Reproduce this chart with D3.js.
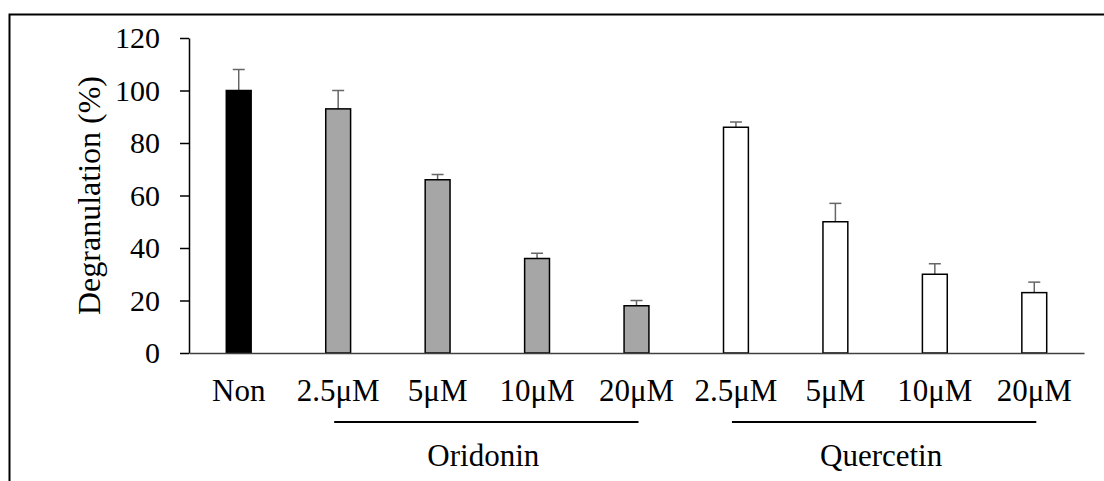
<!doctype html>
<html>
<head>
    <meta charset="UTF-8">
    <title>degranulation</title>
    <script src="https://d3js.org/d3.v7.min.js"></script>
    <style>
        body { margin: 0; background: #fff; }
        svg text { font-family: "Liberation Serif", "Times New Roman", serif; fill: #000; }
    </style>
</head>
<body>
    <svg id="chart" width="1104" height="481"></svg>
    <script>
        // values
        var labels = ["Non", "2.5μM", "5μM", "10μM", "20μM", "2.5μM", "5μM", "10μM", "20μM"];
        var treatment = ["Non", "Oridonin", "Oridonin", "Oridonin", "Oridonin", "Quercetin", "Quercetin", "Quercetin", "Quercetin"];
        var means = [100, 93, 66, 36, 18, 86, 50, 30, 23];
        var errors = [8, 7, 2, 2, 2, 2, 7, 4, 4];
        var yTicks = [0, 20, 40, 60, 80, 100, 120];
        var groupNames = ["Oridonin", "Quercetin"];
        var groupFirst = [1, 5];
        var groupLast = [4, 8];

        var svg = d3.select("#chart");

        // outer frame (runs off right and bottom edges)
        svg.append("path")
            .attr("d", "M9.5,490 V14.5 H1120")
            .attr("fill", "none")
            .attr("stroke", "#000")
            .attr("stroke-width", 2);

        var plotLeft = 189, plotRight = 1084, plotTop = 38, plotBottom = 353;

        var x = d3.scaleBand()
            .domain(d3.range(labels.length))
            .range([plotLeft, plotRight])
            .paddingInner(0.75)
            .paddingOuter(0.375);

        var y = d3.scaleLinear().domain([0, 120]).range([plotBottom, plotTop]);

        var fill = d3.scaleOrdinal()
            .domain(["Non", "Oridonin", "Quercetin"])
            .range(["#000000", "#a6a6a6", "#ffffff"]);

        // y axis
        var yAxis = svg.append("g")
            .attr("transform", "translate(" + plotLeft + ",0)")
            .call(d3.axisLeft(y).tickValues(yTicks).tickSize(9).tickSizeOuter(0).tickPadding(20));
        yAxis.selectAll("path, line").attr("stroke", "#000").attr("stroke-width", 1.5);
        yAxis.selectAll("text").style("font-size", "30px").style("font-family", "Liberation Serif");

        // error bars
        var eb = svg.append("g").selectAll("g").data(means).enter().append("g");
        eb.append("line")
            .attr("x1", function (d, i) { return x(i) + x.bandwidth() / 2; })
            .attr("x2", function (d, i) { return x(i) + x.bandwidth() / 2; })
            .attr("y1", function (d) { return y(d); })
            .attr("y2", function (d, i) { return y(d + errors[i]); })
            .attr("stroke", "#666").attr("stroke-width", 1.5);
        eb.append("line")
            .attr("x1", function (d, i) { return x(i) + x.bandwidth() / 2 - 6; })
            .attr("x2", function (d, i) { return x(i) + x.bandwidth() / 2 + 6; })
            .attr("y1", function (d, i) { return y(d + errors[i]); })
            .attr("y2", function (d, i) { return y(d + errors[i]); })
            .attr("stroke", "#666").attr("stroke-width", 1.5);

        // bars
        svg.append("g").selectAll("rect").data(means).enter().append("rect")
            .attr("x", function (d, i) { return x(i); })
            .attr("y", function (d) { return y(d); })
            .attr("width", x.bandwidth())
            .attr("height", function (d) { return plotBottom - y(d); })
            .attr("fill", function (d, i) { return fill(treatment[i]); })
            .attr("stroke", "#000")
            .attr("stroke-width", 1.5);

        // x axis
        var xAxis = svg.append("g")
            .attr("transform", "translate(0," + plotBottom + ")")
            .call(d3.axisBottom(x).tickSize(0).tickSizeOuter(0).tickPadding(26)
                .tickFormat(function (i) { return labels[i]; }));
        xAxis.select(".domain").attr("stroke", "#404040").attr("stroke-width", 1.5);
        xAxis.selectAll("text").style("font-size", "31px").style("font-family", "Liberation Serif");

        // group underlines and names
        var grp = svg.append("g").selectAll("g").data(groupNames).enter().append("g");
        grp.append("line")
            .attr("x1", function (d, i) { return x(groupFirst[i]) + x.bandwidth() / 2 - 4; })
            .attr("x2", function (d, i) { return x(groupLast[i]) + x.bandwidth() / 2 + 2; })
            .attr("y1", 422).attr("y2", 422)
            .attr("stroke", "#000").attr("stroke-width", 2);
        grp.append("text")
            .attr("x", function (d, i) { return (x(groupFirst[i]) + x(groupLast[i]) + x.bandwidth()) / 2 - 4; })
            .attr("y", 466)
            .attr("text-anchor", "middle")
            .style("font-size", "31px")
            .text(function (d) { return d; });

        // y title
        svg.append("text")
            .attr("transform", "translate(100," + ((plotTop + plotBottom) / 2) + ") rotate(-90)")
            .attr("text-anchor", "middle")
            .style("font-size", "32px")
            .text("Degranulation (%)");
    </script>
</body>
</html>
